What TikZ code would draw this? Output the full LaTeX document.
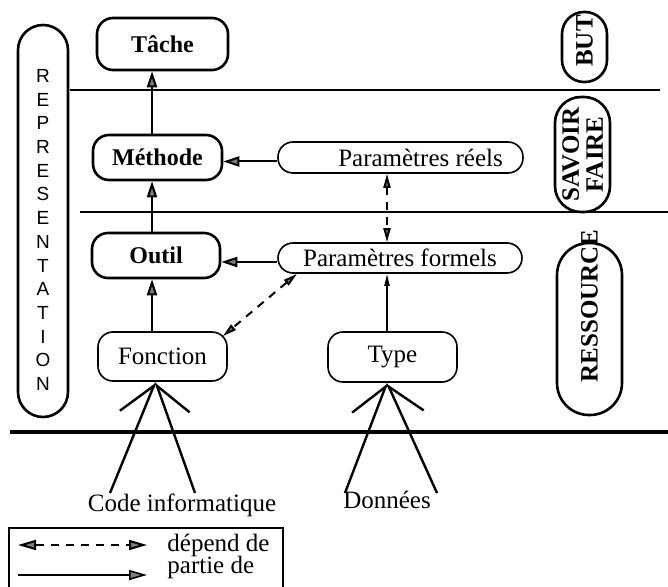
\documentclass[tikz,border=0pt]{standalone}
\usepackage{fontspec}
\setmainfont{Liberation Serif}
\setsansfont{Liberation Sans}
\usepackage{tikz}
\usetikzlibrary{positioning, calc, arrows.meta}
\definecolor{tipgray}{RGB}{125,125,125}

\tikzset{
  noeudgras/.style={draw, rounded corners=8pt, line width=1.3pt, inner sep=0pt, font=\fontsize{12}{14}\selectfont\bfseries},
  noeud/.style={draw, rounded corners=7.5pt, line width=0.8pt, inner sep=0pt, font=\fontsize{12.5}{15}\selectfont},
  niveau/.style={draw, rotate=90, line width=1.3pt, inner sep=1pt, align=center, font=\fontsize{12.5}{12}\selectfont\bfseries},
  texte/.style={inner sep=0pt, font=\fontsize{12.5}{15}\selectfont},
  partiede/.style={line width=1pt, -{Triangle[length=8pt, width=5pt, fill=tipgray]}},
  partiedefin/.style={line width=0.9pt, -{Triangle[length=6pt, width=2.5pt, fill=tipgray]}},
  dependde/.style={line width=1pt, dash pattern=on 4pt off 3.5pt,
    {Triangle[length=7pt, width=3.5pt, fill=tipgray]}-{Triangle[length=7pt, width=3.5pt, fill=tipgray]}},
  barbe/.style={line width=1.2pt, -{Straight Barb[harpoon, length=18pt, width=22pt]}},
}

\begin{document}
\begin{tikzpicture}[x=0.5pt, y=-0.5pt]
  \useasboundingbox (0,0) rectangle (668,587);

  % separations
  \draw[line width=1pt] (70,90) -- (660,90);
  \draw[line width=1pt] (80,212) -- (668,212);
  \draw[line width=1.6pt] (10,432) -- (668,432);

  % representation
  \node[draw, line width=1.3pt, rounded corners=12.5pt, minimum width=25pt, minimum height=196pt] (rep) at (43,221) {};
  \node[inner sep=0pt, align=center, font=\sffamily\fontsize{9.5}{11.85}\selectfont] (reptexte) at (43,230)
    {R\\E\\P\\R\\E\\S\\E\\N\\T\\A\\T\\I\\O\\N};

  % niveaux
  \node[niveau, minimum width=35pt, minimum height=22.5pt, rounded corners=11pt] (but) at (584.5,47) {BUT\hspace*{-6pt}};
  \node[niveau, minimum width=57.5pt, minimum height=27.5pt, rounded corners=13pt] (savoir) at (582.5,154.5) {SAVOIR\\FAIRE};
  \node[niveau, minimum width=86pt, minimum height=32.5pt, rounded corners=16pt] (ress) at (589.5,329) {RESSOURCE\hspace*{-23pt}};

  % noeuds
  \node[noeudgras, minimum width=65.5pt, minimum height=26pt] (tache) at (162.5,44) {Tâche};
  \node[noeudgras, minimum width=64.5pt, minimum height=22.5pt] (meth) at (157.5,157.5) {Méthode};
  \node[noeudgras, minimum width=64pt, minimum height=22.5pt] (outil) at (156,255.5) {Outil};
  \node[noeud, minimum width=64.5pt, minimum height=24.5pt] (fonc) at (162.5,356.5) {Fonction};
  \node[noeud, minimum width=64.5pt, minimum height=25pt] (type) at (392.5,357) {Type};
  \node[noeud, minimum width=122.5pt, minimum height=15.5pt] (reels) at (400.5,157.5) {\hspace*{20pt}Paramètres réels};
  \node[noeud, minimum width=122pt, minimum height=15pt] (formels) at (400,258) {Paramètres formels};

  % liens
  \coordinate (col) at (152,0);
  \coordinate (col2) at (387,0);
  \draw[partiede] (col |- meth.north) -- (col |- tache.south);
  \draw[partiede] (col |- outil.north) -- (col |- meth.south);
  \draw[partiede] (col |- fonc.north) -- (col |- outil.south);
  \draw[partiede] ([yshift=-2pt]reels.west) -- ([yshift=-2pt]reels.west -| meth.east);
  \draw[partiede] ([yshift=-2pt]formels.west) -- ([yshift=-2pt]formels.west -| outil.east);
  \draw[partiedefin] (col2 |- type.north) -- (col2 |- formels.south);
  \draw[dependde] (col2 |- reels.south) -- (col2 |- formels.north);
  \draw[dependde] ([xshift=-51.5pt]formels.south) -- ([xshift=-2.5pt, yshift=-2.5pt]fonc.north east);

  % code et donnees
  \node[texte] (code) at (182,505) {Code informatique};
  \node[texte] (donnees) at (387,500) {Données};
  \coordinate (c1) at (110,493);
  \coordinate (c2) at (195,493);
  \coordinate (d1) at (345,493);
  \coordinate (d2) at (437,493);
  \coordinate (cf) at ([xshift=-3.5pt]fonc.south);
  \coordinate (df) at (col2 |- type.south);
  \draw[barbe] (c1) -- (cf);
  \draw[barbe, -{Straight Barb[harpoon, swap, length=18pt, width=22pt]}] (c2) -- (cf);
  \draw[barbe] (d1) -- (df);
  \draw[barbe, -{Straight Barb[harpoon, swap, length=18pt, width=22pt]}] (d2) -- (df);

  % legende
  \draw[line width=0.8pt] (9,528) rectangle (283,600);
  \coordinate (l1a) at (18,545);
  \coordinate (l1b) at (147,545);
  \coordinate (l2a) at (18,575);
  \coordinate (l2b) at (147,575);
  \draw[dependde, {Triangle[length=9pt, width=5pt, fill=tipgray]}-{Triangle[length=9pt, width=5pt, fill=tipgray]}] (l1a) -- (l1b);
  \draw[partiede, line width=0.8pt, -{Triangle[length=9pt, width=5pt, fill=tipgray]}] (l2a) -- (l2b);
  \node[texte, right=10pt of l1b] (dep) {dépend de};
  \node[texte, right=10pt of l2b, yshift=4pt] (partie) {partie de};
\end{tikzpicture}
\end{document}
